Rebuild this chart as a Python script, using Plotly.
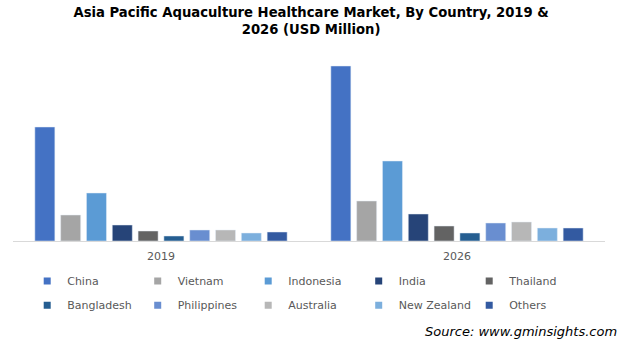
import plotly.graph_objects as go

years = ["2019", "2026"]
countries = ["China", "Vietnam", "Indonesia", "India", "Thailand",
             "Bangladesh", "Philippines", "Australia", "New Zealand", "Others"]
china = [114, 175]
vietnam = [26, 40]
indonesia = [48, 80]
india = [16, 27]
thailand = [10, 15]
bangladesh = [5, 8]
philippines = [11, 18]
australia = [11, 19]
new_zealand = [8, 13]
others = [9, 13]

series = [china, vietnam, indonesia, india, thailand,
          bangladesh, philippines, australia, new_zealand, others]
colors = ["#4472C4", "#A5A5A5", "#5B9BD5", "#264478", "#636363",
          "#255E91", "#698ED0", "#B7B7B7", "#7CAFDD", "#335AA1"]

fig = go.Figure()
for i, (name, vals, col) in enumerate(zip(countries, series, colors)):
    fig.add_trace(go.Bar(
        x=years, y=vals, name=name, marker_color=col,
        showlegend=False, legendgroup=name,
    ))
# small square legend entries
for i, (name, col) in enumerate(zip(countries, colors)):
    fig.add_trace(go.Scatter(
        x=[None], y=[None], mode="markers", name=name, legendgroup=name,
        marker=dict(symbol="square", size=7, color=col),
        legend="legend" if i < 5 else "legend2",
    ))

legend_common = dict(
    orientation="h", xanchor="left", yanchor="middle",
    font=dict(family="DejaVu Sans", size=11, color="#595959"),
    entrywidth=65.5, entrywidthmode="pixels",
    bgcolor="rgba(0,0,0,0)", itemclick=False,
)

fig.update_layout(
    width=626, height=345,
    margin=dict(l=13, r=21, t=55, b=104),
    paper_bgcolor="white", plot_bgcolor="white",
    barmode="group", bargap=0.128, bargroupgap=0.225,
    title=dict(
        text="Asia Pacific Aquaculture Healthcare Market, By Country, 2019 &<br>2026 (USD Million)",
        x=0.497, xanchor="center", y=0.952, yanchor="top",
        font=dict(family="DejaVu Sans", size=13.2, color="black", weight="bold"),
    ),
    xaxis=dict(
        showline=True, linecolor="#D9D9D9", linewidth=1,
        ticks="", tickfont=dict(family="DejaVu Sans", size=11, color="#595959"),
        ticklabelstandoff=5, showgrid=False,
    ),
    yaxis=dict(visible=False, range=[0, 186]),
    legend=dict(x=0.024, y=-0.215, **legend_common),
    legend2=dict(x=0.024, y=-0.345, **legend_common),
    showlegend=True,
    annotations=[dict(
        text="Source: www.gminsights.com", xref="paper", yref="paper",
        x=1.024, y=-0.485, xanchor="right", yanchor="middle", showarrow=False,
        font=dict(family="DejaVu Sans", size=13, color="black", style="italic"),
    )],
)

fig.write_html("out.html")
